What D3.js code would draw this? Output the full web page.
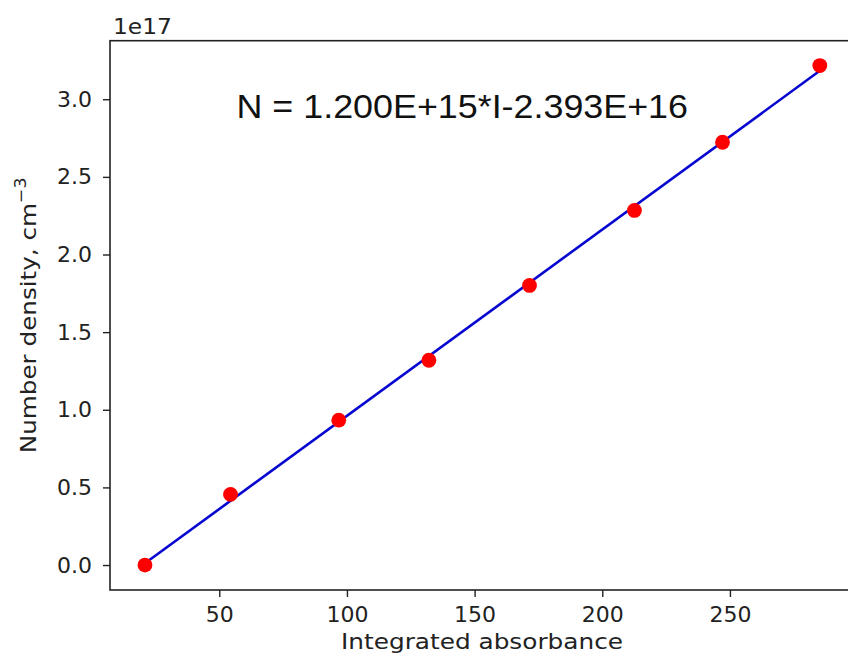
<!DOCTYPE html>
<html>
<head>
<meta charset="utf-8">
<script src="https://cdn.jsdelivr.net/npm/d3@7"></script>
<style>
  html, body { margin: 0; padding: 0; background: #fff; }
  svg { display: block; }
  .tick text { font-family: "DejaVu Sans", sans-serif; font-size: 22px; fill: #222; }
</style>
</head>
<body>
<svg id="chart" width="848" height="655"></svg>
<script>
// Calibration data: integrated absorbance vs. number density (units of 1e17 cm^-3)
const absorbance = [20.9, 54.4, 96.8, 132.1, 171.5, 212.6, 247.1, 285.2];
const density = [0.0, 0.455, 0.933, 1.319, 1.801, 2.284, 2.723, 3.217];

// Linear fit coefficients (N = slope*I + intercept), in cm^-3
const fitSlope = 1.200e15;
const fitIntercept = -2.393e16;
const fitLabel = "N = 1.200E+15*I-2.393E+16";

const xTicks = [50, 100, 150, 200, 250];
const yTicks = [0.0, 0.5, 1.0, 1.5, 2.0, 2.5, 3.0];
const yExponent = 1e17;

const svg = d3.select("#chart");
const plotLeft = 110, plotRight = 853, plotTop = 40.7, plotBottom = 590;

const x = d3.scaleLinear().domain([7.2, 298.2]).range([plotLeft, plotRight]);
const y = d3.scaleLinear().domain([-0.1608, 3.377]).range([plotBottom, plotTop]);

// Axes
const xAxis = svg.append("g")
  .attr("transform", `translate(0,${plotBottom})`)
  .call(d3.axisBottom(x).tickValues(xTicks).tickSize(7).tickPadding(9.5).tickFormat(d3.format("d")));
const yAxis = svg.append("g")
  .attr("transform", `translate(${plotLeft},0)`)
  .call(d3.axisLeft(y).tickValues(yTicks).tickSize(7).tickPadding(11).tickFormat(d3.format(".1f")));
[xAxis, yAxis].forEach(g => {
  g.select(".domain").remove();
  g.selectAll(".tick line").attr("stroke", "#222").attr("stroke-width", 1.4);
});

// Frame
svg.append("rect")
  .attr("x", plotLeft).attr("y", plotTop)
  .attr("width", plotRight - plotLeft).attr("height", plotBottom - plotTop)
  .attr("fill", "none").attr("stroke", "#222").attr("stroke-width", 1.6);

// Fitted line across the data range
const [xmin, xmax] = d3.extent(absorbance);
const fitPts = [xmin, xmax].map(v => [v, (fitSlope * v + fitIntercept) / yExponent]);
svg.append("path")
  .datum(fitPts)
  .attr("fill", "none")
  .attr("stroke", "#0707d0")
  .attr("stroke-width", 2.6)
  .attr("d", d3.line().x(d => x(d[0])).y(d => y(d[1])));

// Measured points
svg.append("g").selectAll("circle")
  .data(absorbance.map((v, i) => [v, density[i]]))
  .join("circle")
  .attr("cx", d => x(d[0]))
  .attr("cy", d => y(d[1]))
  .attr("r", 7.4)
  .attr("fill", "#ff0000");

// Fit equation
svg.append("text")
  .attr("x", 236.5).attr("y", 118.3)
  .attr("font-family", "Liberation Sans, Arial, sans-serif")
  .attr("font-size", 32.5)
  .attr("textLength", 451.5)
  .attr("lengthAdjust", "spacingAndGlyphs")
  .attr("fill", "#111")
  .text(fitLabel);

// Offset multiplier
svg.append("text")
  .attr("x", 113).attr("y", 33.5)
  .attr("font-family", "DejaVu Sans, sans-serif")
  .attr("font-size", 22)
  .attr("textLength", 59)
  .attr("lengthAdjust", "spacingAndGlyphs")
  .attr("fill", "#222")
  .text("1e17");

// Axis titles
svg.append("text")
  .attr("x", 482).attr("y", 649)
  .attr("text-anchor", "middle")
  .attr("font-family", "DejaVu Sans, sans-serif")
  .attr("font-size", 22)
  .attr("textLength", 282)
  .attr("lengthAdjust", "spacingAndGlyphs")
  .attr("fill", "#222")
  .text("Integrated absorbance");

const yl = svg.append("text")
  .attr("transform", `translate(36,${(plotTop + plotBottom) / 2}) rotate(-90) scale(1.12,1)`)
  .attr("text-anchor", "middle")
  .attr("font-family", "DejaVu Sans, sans-serif")
  .attr("font-size", 22)
  .attr("fill", "#222");
yl.append("tspan").text("Number density, cm");
yl.append("tspan").attr("dy", -10).attr("font-size", 15.5).text("\u22123");
</script>
</body>
</html>
